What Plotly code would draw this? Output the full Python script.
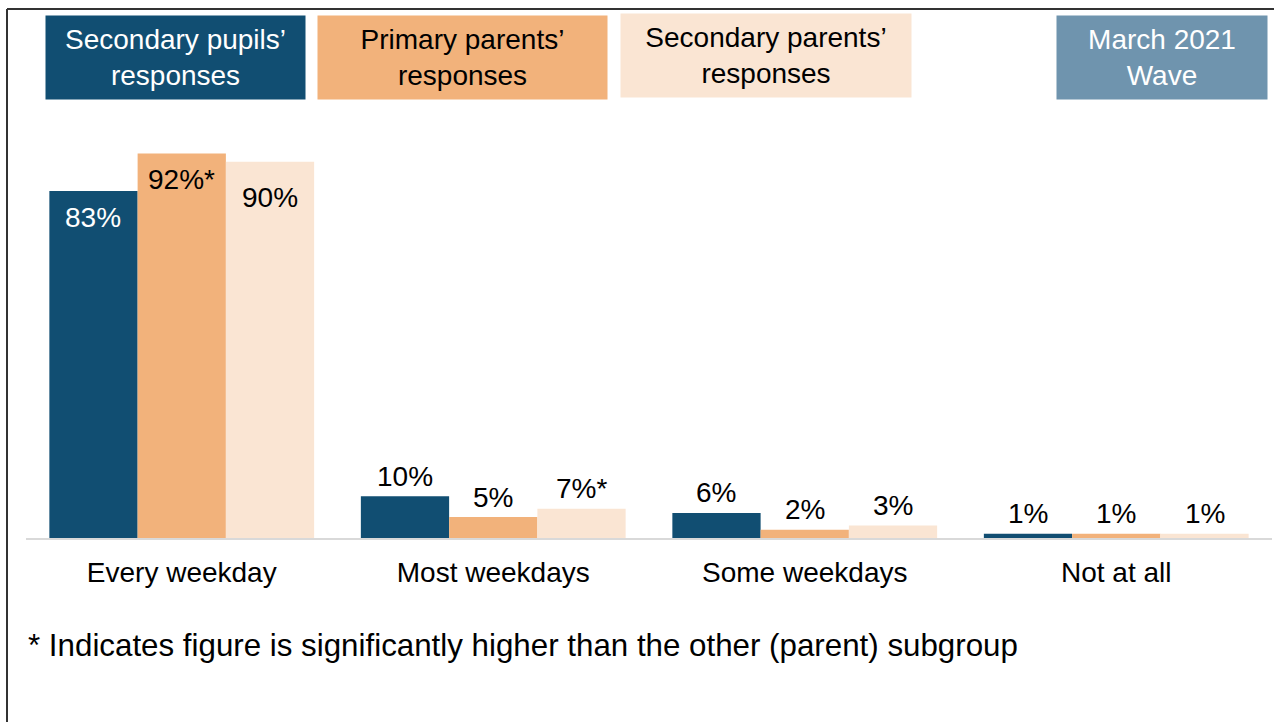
import plotly.graph_objects as go

categories = ["Every weekday", "Most weekdays", "Some weekdays", "Not at all"]
series_names = ["Secondary pupils’ responses", "Primary parents’ responses", "Secondary parents’ responses"]
pupils_secondary = [83, 10, 6, 1]
parents_primary = [92, 5, 2, 1]
parents_secondary = [90, 7, 3, 1]
labels_pupils_secondary = ["83%", "10%", "6%", "1%"]
labels_parents_primary = ["92%*", "5%", "2%", "1%"]
labels_parents_secondary = ["90%", "7%*", "3%", "1%"]
footnote = "* Indicates figure is significantly higher than the other (parent) subgroup"
wave_label = "March 2021<br>Wave"

colors = ["#114E72", "#F2B27B", "#FAE5D3"]
label_colors_inside = ["white", "black", "black"]
FONT = "Liberation Sans, Arial, sans-serif"
FS = 28

W, H = 1274, 722
ML, MR, MT, MB = 26, 2, 110, 184
PW = W - ML - MR
PH = H - MT - MB
YMAX = PH / 4.18


def px_x(px):
    return (px - ML) / PW


def px_y(py):
    return (H - MB - py) / PH


fig = go.Figure()
values = [pupils_secondary, parents_primary, parents_secondary]
labels = [labels_pupils_secondary, labels_parents_primary, labels_parents_secondary]
for i, (name, vals) in enumerate(zip(series_names, values)):
    fig.add_trace(go.Bar(
        x=categories, y=vals, name=name,
        marker=dict(color=colors[i], line=dict(width=0)),
        offsetgroup=str(i), showlegend=False, hoverinfo="x+y",
    ))

annotations = []
n = len(series_names)
group_w = 0.85
bw = group_w / n
inside_shift = [-26, -26, -36]
for i in range(n):
    for j, cat in enumerate(categories):
        v = values[i][j]
        xpos = j - group_w / 2 + bw * (i + 0.5)
        inside = v > 50
        annotations.append(dict(
            x=xpos, y=v, xref="x", yref="y", text=labels[i][j], showarrow=False,
            yanchor="middle", yshift=inside_shift[i] if inside else 20,
            font=dict(family=FONT, size=FS, color=label_colors_inside[i] if inside else "black"),
        ))

# legend-like boxes
boxes = [
    (series_names[0].replace(" responses", "<br>responses"), 175.5, 57.5, 259, 83, colors[0], "white"),
    (series_names[1].replace(" responses", "<br>responses"), 462.5, 57.5, 289, 83, colors[1], "black"),
    (series_names[2].replace(" responses", "<br>responses"), 766, 55.5, 290, 83, colors[2], "black"),
    (wave_label, 1162, 57.5, 210, 83, "#6F94AE", "white"),
]
for text, cx, cy, bwid, bh, bg, fc in boxes:
    annotations.append(dict(
        x=px_x(cx), y=px_y(cy), xref="paper", yref="paper", text=text, showarrow=False,
        xanchor="center", yanchor="middle", width=bwid, height=bh, bgcolor=bg,
        borderpad=0, align="center", font=dict(family=FONT, size=FS, color=fc),
    ))

annotations.append(dict(
    x=px_x(26), y=px_y(645), xref="paper", yref="paper", text=footnote, showarrow=False,
    xanchor="left", yanchor="middle", font=dict(family=FONT, size=31.3, color="black"),
))

shapes = [
    dict(type="line", xref="paper", yref="paper", x0=px_x(7), x1=px_x(7), y0=px_y(9), y1=px_y(730),
         line=dict(color="#333333", width=2)),
    dict(type="line", xref="paper", yref="paper", x0=px_x(7), x1=px_x(1280), y0=px_y(9), y1=px_y(9),
         line=dict(color="#333333", width=2)),
]

fig.update_layout(
    width=W, height=H,
    margin=dict(l=ML, r=MR, t=MT, b=MB),
    paper_bgcolor="white", plot_bgcolor="white",
    barmode="group", bargap=0.15, bargroupgap=0,
    annotations=annotations, shapes=shapes,
    font=dict(family=FONT, size=FS, color="black"),
    xaxis=dict(showline=True, linecolor="#D9D9D9", linewidth=2, showgrid=False, ticks="",
               ticklabelstandoff=8, tickfont=dict(family=FONT, size=FS, color="black"),
               range=[-0.5, 3.5], fixedrange=True),
    yaxis=dict(visible=False, range=[0, YMAX], showgrid=False, zeroline=False, fixedrange=True),
)

fig.write_html("out.html", config={"displayModeBar": False},
               post_script="document.body.style.margin='0';document.body.style.overflow='hidden';")
